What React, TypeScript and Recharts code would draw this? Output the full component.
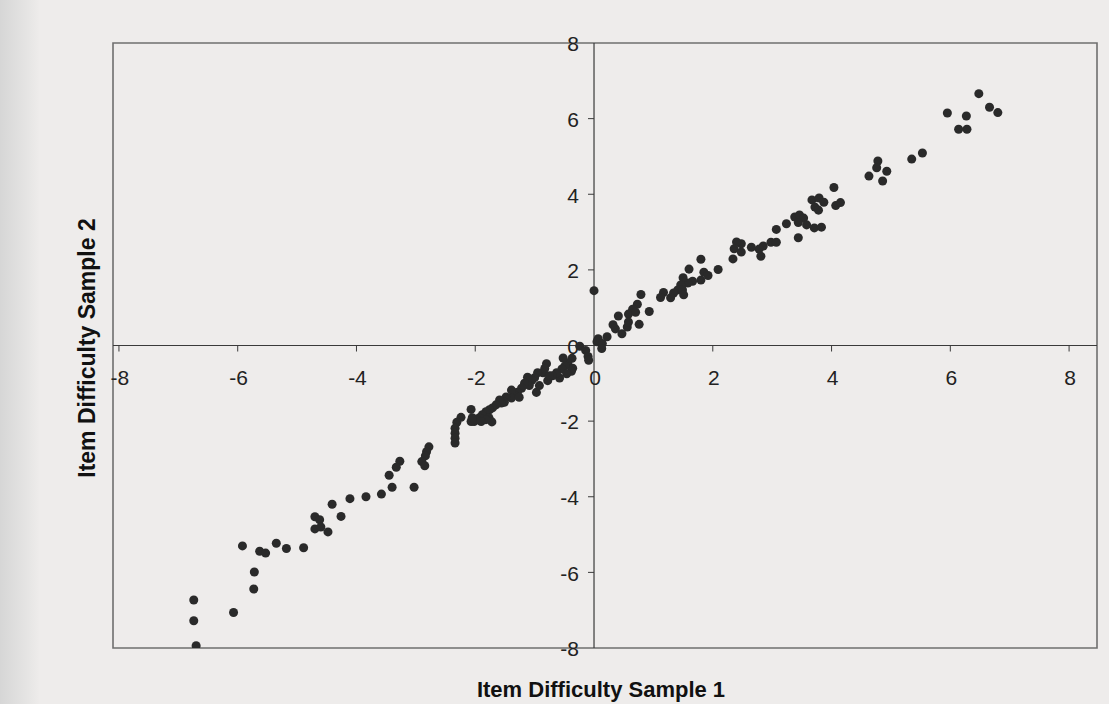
import React from 'react';
import { ScatterChart, Scatter, XAxis, YAxis, ReferenceLine, ReferenceDot, ReferenceArea } from 'recharts';

// Item difficulty estimates (logits)
const sample1: number[] = [
  6.48, 6.66, 6.80, 5.95, 6.27, 6.14, 6.28, 5.53, 5.35, 4.78, 4.76, 4.93, 4.63, 4.86,
  4.04, 4.07, 4.15,
  3.67, 3.79, 3.87, 3.72, 3.78, 3.38, 3.46, 3.53, 3.44, 3.58, 3.71, 3.83, 3.24, 3.07, 3.44,
  2.98, 3.07, 2.85, 2.78, 2.81, 2.65, 2.48, 2.40, 2.36, 2.48, 2.34,
  2.09, 1.80, 1.60, 1.85, 1.92, 1.80, 1.66, 1.58, 1.50, 1.46, 1.41, 1.49, 1.51, 1.34, 1.29, 1.17, 1.12,
  0.79, 0.73, 0.65, 0.58, 0.70, 0.41, 0.93, 0.32, 0.36, 0.47, 0.56, 0.58, 0.76, 0.07, 0.05, 0.14, 0.22, 0.13, 0.0,
  -0.24, -0.14, -0.10, -0.09, -0.37, -0.44, -0.52, -0.36, -0.38, -0.49, -0.54, -0.46, -0.58, -0.63, -0.70,
  -0.80, -0.83, -0.86, -0.78, -0.75, -0.95, -1.00, -1.05, -1.12, -1.09, -0.97, -0.92,
  -1.17, -1.22, -1.29, -1.34, -1.39, -1.39, -1.48, -1.51, -1.56, -1.59, -1.26, -1.65,
  -1.71, -1.76, -1.82, -1.88, -1.93, -1.97, -2.02, -2.07, -2.05, -1.77, -1.72, -1.82, -1.90, -2.07,
  -2.24, -2.31, -2.34, -2.34, -2.34, -2.34,
  -2.78, -2.82, -2.84, -2.90, -2.85, -3.27, -3.33, -3.45, -3.40, -3.03, -3.58, -3.84, -4.11, -4.41, -4.26,
  -4.70, -4.62, -4.70, -4.60, -4.48, -5.92, -5.63, -5.53, -5.35, -5.18, -4.89, -5.72, -5.73, -6.07, -6.74, -6.74, -6.70,
];

const sample2: number[] = [
  6.66, 6.30, 6.16, 6.15, 6.07, 5.72, 5.72, 5.09, 4.93, 4.88, 4.70, 4.61, 4.48, 4.35,
  4.18, 3.70, 3.78,
  3.85, 3.90, 3.79, 3.66, 3.58, 3.40, 3.45, 3.37, 3.25, 3.19, 3.11, 3.13, 3.22, 3.07, 2.85,
  2.73, 2.73, 2.63, 2.55, 2.36, 2.60, 2.69, 2.74, 2.56, 2.47, 2.29,
  2.01, 2.28, 2.02, 1.94, 1.85, 1.73, 1.70, 1.65, 1.79, 1.60, 1.47, 1.47, 1.34, 1.39, 1.26, 1.40, 1.27,
  1.35, 1.09, 0.96, 0.83, 0.88, 0.78, 0.90, 0.55, 0.44, 0.31, 0.49, 0.62, 0.56, 0.18, 0.10, 0.05, 0.23, -0.08, 1.45,
  -0.02, -0.13, -0.29, -0.39, -0.34, -0.46, -0.33, -0.60, -0.68, -0.54, -0.62, -0.75, -0.86, -0.72, -0.80,
  -0.48, -0.61, -0.72, -0.93, -0.80, -0.72, -0.85, -0.93, -0.84, -1.06, -1.24, -1.06,
  -1.00, -1.13, -1.24, -1.31, -1.18, -1.39, -1.36, -1.50, -1.52, -1.44, -1.37, -1.57,
  -1.65, -1.70, -1.75, -1.83, -1.91, -1.96, -2.01, -2.01, -1.91, -1.91, -2.02, -1.96, -2.01, -1.69,
  -1.90, -2.03, -2.19, -2.32, -2.45, -2.58,
  -2.68, -2.81, -2.92, -3.07, -3.18, -3.06, -3.22, -3.43, -3.75, -3.75, -3.93, -4.00, -4.05, -4.20, -4.52,
  -4.53, -4.61, -4.85, -4.80, -4.93, -5.30, -5.44, -5.49, -5.23, -5.37, -5.35, -5.99, -6.44, -7.06, -6.73, -7.28, -7.94,
];

const xTicks: number[] = [-8, -6, -4, -2, 0, 2, 4, 6, 8];
const yTicks: number[] = [-8, -6, -4, -2, 0, 2, 4, 6, 8];
const xDomain: [number, number] = [-8.1, 8.47];
const yDomain: [number, number] = [-8, 8];
const xTitle = 'Item Difficulty Sample 1';
const yTitle = 'Item Difficulty Sample 2';

const points = sample1.map((x, i) => ({ x, y: sample2[i] }));

const FONT = '"Liberation Sans", Arial, Helvetica, sans-serif';
const INK = '#2a2a2a';

const xTickShape = (label: string, withMark: boolean) => (p: any) => (
  <g>
    {withMark && <line x1={p.cx} y1={p.cy} x2={p.cx} y2={p.cy + 6} stroke="#3a3a3a" strokeWidth={1} />}
    <text x={p.cx + 1} y={p.cy + 32} dy="0.35em" textAnchor="middle" fontSize={21} fontFamily={FONT} fill="#222">
      {label}
    </text>
  </g>
);

const yTickShape = (label: string, withMark: boolean) => (p: any) => (
  <g>
    {withMark && <line x1={p.cx - 6} y1={p.cy} x2={p.cx} y2={p.cy} stroke="#3a3a3a" strokeWidth={1} />}
    <text x={p.cx - 15} y={p.cy + 1} dy="0.35em" textAnchor="end" fontSize={21} fontFamily={FONT} fill="#222">
      {label}
    </text>
  </g>
);

export default function App() {
  return (
    <div
      style={{
        position: 'absolute',
        left: 0,
        top: 0,
        width: 1109,
        height: 704,
        background: '#eeeceb',
        overflow: 'hidden',
      }}
    >
      <div
        style={{
          position: 'absolute',
          left: 0,
          top: 0,
          width: 40,
          height: 704,
          background: 'linear-gradient(to right, #d6d6d6, #e6e5e4 70%, #eeeceb)',
        }}
      />
      <ScatterChart width={1109} height={704} margin={{ top: 43, right: 12, bottom: 56, left: 113 }}>
        <XAxis type="number" dataKey="x" domain={xDomain} allowDataOverflow hide />
        <YAxis type="number" dataKey="y" domain={yDomain} allowDataOverflow hide />
        <ReferenceArea
          x1={xDomain[0]}
          x2={xDomain[1]}
          y1={yDomain[0]}
          y2={yDomain[1]}
          fill="none"
          stroke="#6f6f6f"
          strokeWidth={1.6}
          ifOverflow="visible"
        />
        <ReferenceLine y={0} stroke="#3a3a3a" strokeWidth={1.2} ifOverflow="visible" />
        <ReferenceLine x={0} stroke="#3a3a3a" strokeWidth={1.2} ifOverflow="visible" />
        {xTicks.map((v) => (
          <ReferenceDot
            key={'xt' + v}
            x={v}
            y={0}
            r={0}
            fill="none"
            stroke="none"
            ifOverflow="visible"
            shape={xTickShape(String(v), v !== 0)}
          />
        ))}
        {yTicks.map((v) => (
          <ReferenceDot
            key={'yt' + v}
            x={0}
            y={v}
            r={0}
            fill="none"
            stroke="none"
            ifOverflow="visible"
            shape={yTickShape(String(v), v !== 0 && Math.abs(v) !== 8)}
          />
        ))}
        <Scatter data={points} fill={INK} isAnimationActive={false} />
      </ScatterChart>
      <div
        style={{
          position: 'absolute',
          left: 601,
          top: 690,
          transform: 'translate(-50%, -50%)',
          fontFamily: FONT,
          fontWeight: 'bold',
          fontSize: 22,
          color: '#111',
          whiteSpace: 'nowrap',
        }}
      >
        {xTitle}
      </div>
      <div
        style={{
          position: 'absolute',
          left: 87,
          top: 348,
          transform: 'translate(-50%, -50%) rotate(-90deg)',
          fontFamily: FONT,
          fontWeight: 'bold',
          fontSize: 23,
          color: '#111',
          whiteSpace: 'nowrap',
        }}
      >
        {yTitle}
      </div>
    </div>
  );
}
